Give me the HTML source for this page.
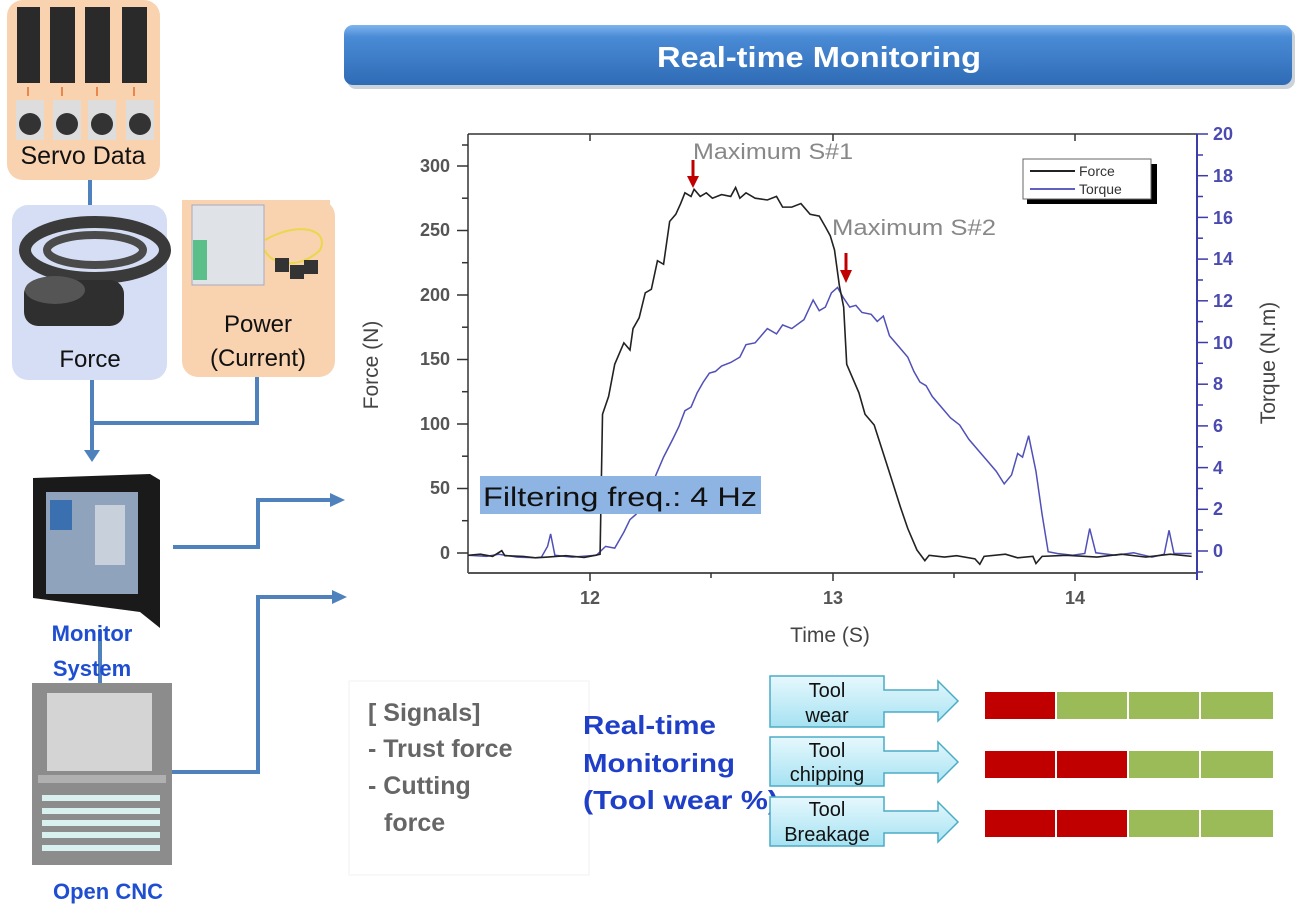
<!DOCTYPE html>
<html><head><meta charset="utf-8"><style>
html,body{margin:0;padding:0;background:#fff;}
body{width:1299px;height:908px;position:relative;overflow:hidden;font-family:"Liberation Sans",sans-serif;}
.abs{position:absolute;}
</style></head><body>
<svg class="abs" style="left:0;top:0" width="1299" height="908" viewBox="0 0 1299 908" xmlns="http://www.w3.org/2000/svg">
<defs>
<linearGradient id="ban" x1="0" y1="0" x2="0" y2="1">
<stop offset="0" stop-color="#7fb4ee"/><stop offset="0.2" stop-color="#4a8bd6"/><stop offset="1" stop-color="#2f6bb5"/></linearGradient>
<linearGradient id="cal" x1="0" y1="0" x2="0" y2="1">
<stop offset="0" stop-color="#e6f8fd"/><stop offset="1" stop-color="#a6e2f2"/></linearGradient>
</defs>

<!-- Banner -->
<rect x="347" y="28" width="948" height="61" rx="9" fill="#9aa6b4" opacity="0.5"/>
<rect x="344" y="25" width="948" height="60" rx="9" fill="url(#ban)"/>
<text x="657" y="67" font-weight="bold" font-size="29" fill="#fff" textLength="324" lengthAdjust="spacingAndGlyphs">Real-time Monitoring</text>

<!-- Left: servo box -->
<rect x="7" y="0" width="153" height="180" rx="16" fill="#f9d2b0"/>
<g fill="#2a2a2a">
<rect x="17" y="7" width="23" height="76"/><rect x="50" y="7" width="25" height="76"/><rect x="85" y="7" width="25" height="76"/><rect x="122" y="7" width="25" height="76"/></g>
<g fill="#ddd"><rect x="16" y="100" width="28" height="40"/><rect x="53" y="100" width="28" height="40"/><rect x="88" y="100" width="28" height="40"/><rect x="126" y="100" width="28" height="40"/></g>
<g fill="#333"><circle cx="30" cy="124" r="11"/><circle cx="67" cy="124" r="11"/><circle cx="102" cy="124" r="11"/><circle cx="140" cy="124" r="11"/></g>
<g stroke="#e07030" stroke-width="1.5"><line x1="28" y1="87" x2="28" y2="96"/><line x1="62" y1="87" x2="62" y2="96"/><line x1="97" y1="87" x2="97" y2="96"/><line x1="134" y1="87" x2="134" y2="96"/></g>
<text x="83" y="164" text-anchor="middle" font-size="25" fill="#111">Servo  Data</text>

<!-- connectors -->
<g stroke="#4f81bd" stroke-width="4" fill="none">
<line x1="90" y1="180" x2="90" y2="207"/>
<polyline points="92,380 92,423 257,423 257,377"/>
<line x1="92" y1="423" x2="92" y2="452"/>
<polyline points="173,547 258,547 258,500 332,500"/>
<polyline points="172,772 258,772 258,597 334,597"/>
<line x1="100" y1="630" x2="100" y2="684"/>
</g>
<g fill="#4f81bd">
<polygon points="84,450 100,450 92,462"/>
<polygon points="330,493 345,500 330,507"/>
<polygon points="332,590 347,597 332,604"/>
</g>

<!-- Force box -->
<rect x="12" y="205" width="155" height="175" rx="16" fill="#d5def4"/>
<ellipse cx="95" cy="250" rx="70" ry="28" fill="none" stroke="#3a3a3a" stroke-width="12"/>
<ellipse cx="95" cy="250" rx="48" ry="15" fill="none" stroke="#4a4a4a" stroke-width="8"/>
<rect x="24" y="280" width="100" height="46" rx="14" fill="#2f2f2f"/>
<ellipse cx="55" cy="290" rx="30" ry="14" fill="#555"/>
<text x="90" y="367" text-anchor="middle" font-size="24" fill="#111">Force</text>

<!-- Power box -->
<rect x="182" y="200" width="153" height="177" rx="16" fill="#f9d2b0"/>
<rect x="182" y="200" width="148" height="40" fill="#f9d2b0"/>
<rect x="192" y="205" width="72" height="80" fill="#dfe3e8" stroke="#aab" />
<rect x="193" y="240" width="14" height="40" fill="#5bbf8a"/>
<path d="M265 240 C300 220 330 230 320 250 C300 270 270 265 265 250" stroke="#e8d84a" stroke-width="2" fill="none"/>
<g fill="#333"><rect x="275" y="258" width="14" height="14"/><rect x="290" y="265" width="14" height="14"/><rect x="304" y="260" width="14" height="14"/></g>
<text x="258" y="332" text-anchor="middle" font-size="24" fill="#111">Power</text>
<text x="258" y="366" text-anchor="middle" font-size="24" fill="#111">(Current)</text>

<!-- Monitor -->
<polygon points="33,478 150,474 160,480 160,628 140,612 33,598" fill="#1a1a1a"/>
<rect x="46" y="492" width="92" height="102" fill="#8fa3bd"/>
<rect x="50" y="500" width="22" height="30" fill="#3a6fb0"/>
<rect x="95" y="505" width="30" height="60" fill="#c8d0dc"/>
<text x="92" y="641" text-anchor="middle" font-weight="bold" font-size="22" fill="#1f4fd0">Monitor</text>
<text x="92" y="676" text-anchor="middle" font-weight="bold" font-size="22" fill="#1f4fd0">System</text>

<!-- CNC -->
<rect x="32" y="683" width="140" height="182" fill="#8c8c8c"/>
<rect x="47" y="693" width="105" height="78" fill="#d4d4d4"/>
<rect x="38" y="775" width="128" height="8" fill="#b0b0b0"/>
<g fill="#d8f0ee">
<rect x="42" y="795" width="118" height="6"/><rect x="42" y="808" width="118" height="6"/><rect x="42" y="820" width="118" height="6"/><rect x="42" y="832" width="118" height="6"/><rect x="42" y="845" width="118" height="6"/></g>
<text x="108" y="899" text-anchor="middle" font-weight="bold" font-size="22" fill="#1f4fd0">Open CNC</text>

<!-- Chart frame -->
<g stroke="#333" stroke-width="1.5" fill="none">
<line x1="468" y1="134" x2="1197" y2="134"/>
<line x1="468" y1="134" x2="468" y2="573"/>
<line x1="468" y1="573" x2="1197" y2="573" stroke="#555" stroke-width="2"/>
</g>
<g stroke="#333" stroke-width="1.5">
<line x1="457" y1="553" x2="468" y2="553"/><line x1="457" y1="488.5" x2="468" y2="488.5"/><line x1="457" y1="424" x2="468" y2="424"/><line x1="457" y1="359.5" x2="468" y2="359.5"/><line x1="457" y1="295" x2="468" y2="295"/><line x1="457" y1="230.5" x2="468" y2="230.5"/><line x1="457" y1="166" x2="468" y2="166"/>
<line x1="462" y1="520.7" x2="468" y2="520.7"/><line x1="462" y1="456.2" x2="468" y2="456.2"/><line x1="462" y1="391.7" x2="468" y2="391.7"/><line x1="462" y1="327.2" x2="468" y2="327.2"/><line x1="462" y1="262.7" x2="468" y2="262.7"/><line x1="462" y1="198.2" x2="468" y2="198.2"/><line x1="462" y1="145" x2="468" y2="145"/>
<line x1="590" y1="573" x2="590" y2="581"/><line x1="833" y1="573" x2="833" y2="581"/><line x1="1075" y1="573" x2="1075" y2="581"/>
<line x1="711" y1="573" x2="711" y2="578"/><line x1="954" y1="573" x2="954" y2="578"/>
<line x1="590" y1="134" x2="590" y2="141"/><line x1="833" y1="134" x2="833" y2="141"/><line x1="1075" y1="134" x2="1075" y2="141"/>
</g>
<g font-size="18" font-weight="bold" fill="#555" text-anchor="end">
<text x="450" y="559">0</text><text x="450" y="494">50</text><text x="450" y="430">100</text><text x="450" y="365">150</text><text x="450" y="301">200</text><text x="450" y="236">250</text><text x="450" y="172">300</text>
</g>
<g font-size="18" font-weight="bold" fill="#555" text-anchor="middle">
<text x="590" y="604">12</text><text x="833" y="604">13</text><text x="1075" y="604">14</text>
</g>
<text x="830" y="642" text-anchor="middle" font-size="21" fill="#444">Time (S)</text>
<text transform="translate(378,365) rotate(-90)" text-anchor="middle" font-size="21" fill="#444">Force (N)</text>
<text transform="translate(1275,363) rotate(-90)" text-anchor="middle" font-size="21" fill="#444">Torque (N.m)</text>

<!-- right axis -->
<line x1="1197" y1="134" x2="1197" y2="580" stroke="#3c3ca8" stroke-width="2"/>
<g font-size="18" font-weight="bold" fill="#4a4ab0">
<text x="1213" y="557">0</text><text x="1213" y="515">2</text><text x="1213" y="474">4</text><text x="1213" y="432">6</text><text x="1213" y="390">8</text><text x="1213" y="349">10</text><text x="1213" y="307">12</text><text x="1213" y="265">14</text><text x="1213" y="224">16</text><text x="1213" y="182">18</text><text x="1213" y="140">20</text>
</g>
<g stroke="#3c3ca8" stroke-width="1.5">
<line x1="1197" y1="551" x2="1208" y2="551"/><line x1="1197" y1="509.3" x2="1208" y2="509.3"/><line x1="1197" y1="467.6" x2="1208" y2="467.6"/><line x1="1197" y1="425.9" x2="1208" y2="425.9"/><line x1="1197" y1="384.2" x2="1208" y2="384.2"/><line x1="1197" y1="342.5" x2="1208" y2="342.5"/><line x1="1197" y1="300.8" x2="1208" y2="300.8"/><line x1="1197" y1="259.1" x2="1208" y2="259.1"/><line x1="1197" y1="217.4" x2="1208" y2="217.4"/><line x1="1197" y1="175.7" x2="1208" y2="175.7"/><line x1="1197" y1="134" x2="1208" y2="134"/>
<line x1="1197" y1="530" x2="1203" y2="530"/><line x1="1197" y1="488.5" x2="1203" y2="488.5"/><line x1="1197" y1="446.8" x2="1203" y2="446.8"/><line x1="1197" y1="405" x2="1203" y2="405"/><line x1="1197" y1="363.3" x2="1203" y2="363.3"/><line x1="1197" y1="321.6" x2="1203" y2="321.6"/><line x1="1197" y1="280" x2="1203" y2="280"/><line x1="1197" y1="238.2" x2="1203" y2="238.2"/><line x1="1197" y1="196.5" x2="1203" y2="196.5"/><line x1="1197" y1="155" x2="1203" y2="155"/><line x1="1197" y1="572" x2="1203" y2="572"/>
</g>

<!-- data -->
<g transform="matrix(0.6105,0,0,0.3571,340,100)" fill="none">
<polyline vector-effect="non-scaling-stroke" stroke="#5050b8" stroke-width="1.5" points="210,1275 240,1278 260,1272 290,1280 320,1282 330,1280 340,1250 345,1215 352,1275 380,1280 420,1275 435,1250 450,1255 465,1210 475,1175 485,1160 500,1110 515,1060 530,1000 545,950 555,915 565,870 575,860 585,820 595,790 605,765 615,760 625,745 640,735 655,720 665,685 680,680 700,640 715,655 725,630 740,640 760,615 775,560 785,590 795,580 805,540 815,525 825,555 835,580 845,575 855,595 870,600 880,620 890,605 900,660 915,690 930,720 940,760 950,790 960,800 970,830 985,860 1000,890 1015,910 1030,950 1045,980 1060,1010 1075,1040 1088,1075 1100,1050 1110,990 1118,1000 1128,940 1140,1040 1150,1160 1160,1265 1175,1270 1200,1275 1220,1270 1228,1200 1238,1268 1270,1275 1300,1268 1330,1280 1350,1272 1358,1205 1366,1270 1395,1270"/>
<polyline vector-effect="non-scaling-stroke" stroke="#222" stroke-width="1.6" points="210,1275 230,1272 250,1278 265,1262 270,1276 300,1278 320,1282 340,1280 370,1276 400,1281 418,1275 426,1272 430,880 440,830 450,740 460,700 465,680 475,700 480,640 490,610 500,540 510,530 520,450 530,460 540,340 550,320 558,290 565,260 575,270 580,250 590,270 600,260 610,275 625,265 640,270 648,245 655,275 665,260 680,275 700,280 715,270 725,300 740,300 755,290 770,320 785,325 795,355 803,380 810,420 818,520 825,580 830,740 840,780 850,820 860,880 875,910 890,990 905,1070 918,1140 930,1200 945,1260 958,1290 965,1275 990,1280 1010,1276 1040,1285 1048,1300 1055,1278 1090,1272 1110,1282 1135,1278 1140,1298 1150,1278 1190,1275 1240,1280 1280,1272 1320,1280 1360,1272 1395,1278"/>
</g>

<!-- annotations -->
<text x="693" y="159" font-size="22" fill="#888" textLength="160" lengthAdjust="spacingAndGlyphs">Maximum S#1</text>
<text x="832" y="235" font-size="22" fill="#888" textLength="164" lengthAdjust="spacingAndGlyphs">Maximum S#2</text>
<g stroke="#c00000" stroke-width="3"><line x1="693" y1="160" x2="693" y2="178"/><line x1="846" y1="253" x2="846" y2="272"/></g>
<g fill="#c00000"><polygon points="687,176 699,176 693,188"/><polygon points="840,270 852,270 846,283"/></g>

<!-- legend -->
<rect x="1027" y="164" width="130" height="40" fill="#000"/>
<rect x="1023" y="159" width="128" height="40" fill="#fff" stroke="#666"/>
<line x1="1030" y1="171" x2="1075" y2="171" stroke="#222" stroke-width="2"/>
<line x1="1030" y1="189" x2="1075" y2="189" stroke="#6060c0" stroke-width="2"/>
<text x="1079" y="176" font-size="14" fill="#333">Force</text>
<text x="1079" y="194" font-size="14" fill="#333">Torque</text>

<!-- filter box -->
<rect x="480" y="476" width="281" height="38" fill="#8eb4e3"/>
<text x="483" y="506" font-size="27" fill="#111" textLength="274" lengthAdjust="spacingAndGlyphs">Filtering  freq.: 4 Hz</text>

<!-- bottom texts -->
<rect x="349" y="681" width="240" height="194" fill="none" stroke="#f2f2f2"/>
<g font-size="25" font-weight="bold" fill="#666">
<text x="368" y="721">[ Signals]</text>
<text x="368" y="757">- Trust force</text>
<text x="368" y="794">- Cutting</text>
<text x="384" y="831">force</text>
</g>
<g font-size="26" font-weight="bold" fill="#1f3fc8">
<text x="583" y="734" textLength="133" lengthAdjust="spacingAndGlyphs">Real-time</text>
<text x="583" y="772" textLength="152" lengthAdjust="spacingAndGlyphs">Monitoring</text>
<text x="583" y="809" textLength="195" lengthAdjust="spacingAndGlyphs">(Tool wear  %)</text>
</g>

<!-- callouts -->
<g stroke="#4bacc6" stroke-width="1.5" fill="url(#cal)">
<path d="M770 676 H884 V690 H938 V681 L958 701 L938 721 V712 H884 V727 H770 Z"/>
<path d="M770 737 H884 V751 H938 V742 L958 762 L938 782 V773 H884 V786 H770 Z"/>
<path d="M770 797 H884 V811 H938 V802 L958 822 L938 842 V833 H884 V846 H770 Z"/>
</g>
<g font-size="20" fill="#111" text-anchor="middle">
<text x="827" y="697">Tool</text><text x="827" y="722">wear</text>
<text x="827" y="757">Tool</text><text x="827" y="781">chipping</text>
<text x="827" y="816">Tool</text><text x="827" y="841">Breakage</text>
</g>

<!-- bars -->
<g>
<rect x="985" y="692" width="70" height="27" fill="#c00000"/><rect x="1057" y="692" width="70" height="27" fill="#9bbb59"/><rect x="1129" y="692" width="70" height="27" fill="#9bbb59"/><rect x="1201" y="692" width="72" height="27" fill="#9bbb59"/>
<rect x="985" y="751" width="70" height="27" fill="#c00000"/><rect x="1057" y="751" width="70" height="27" fill="#c00000"/><rect x="1129" y="751" width="70" height="27" fill="#9bbb59"/><rect x="1201" y="751" width="72" height="27" fill="#9bbb59"/>
<rect x="985" y="810" width="70" height="27" fill="#c00000"/><rect x="1057" y="810" width="70" height="27" fill="#c00000"/><rect x="1129" y="810" width="70" height="27" fill="#9bbb59"/><rect x="1201" y="810" width="72" height="27" fill="#9bbb59"/>
</g>
</svg>
</body></html>
